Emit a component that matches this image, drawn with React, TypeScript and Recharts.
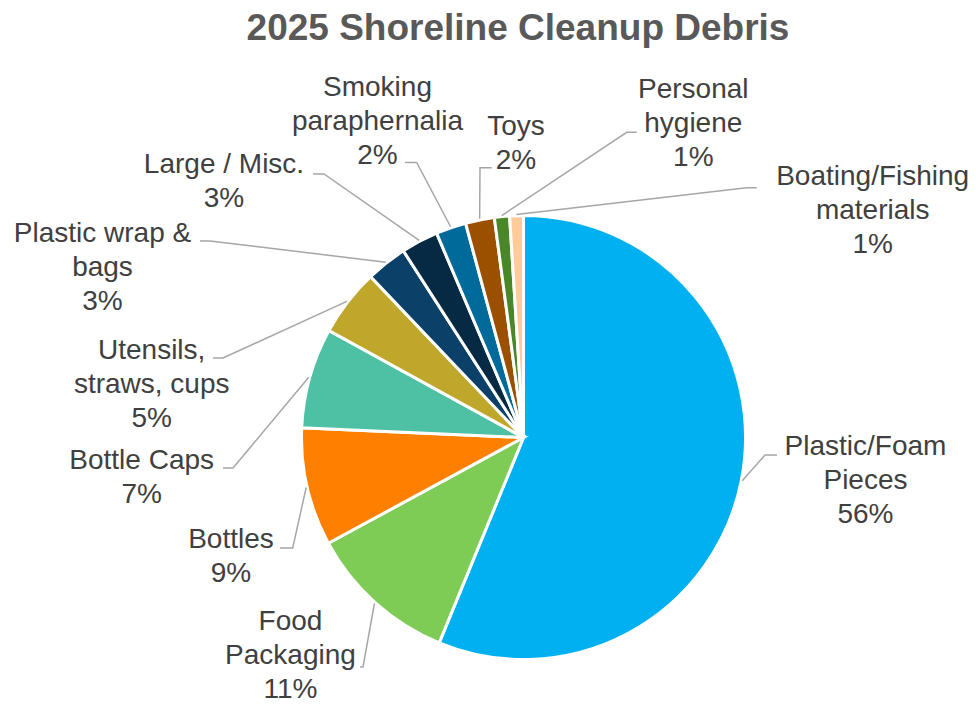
import { PieChart, Pie, Cell } from "recharts";

const categories = [
  "Plastic/Foam\nPieces",
  "Food\nPackaging",
  "Bottles",
  "Bottle Caps",
  "Utensils,\nstraws, cups",
  "Plastic wrap &\nbags",
  "Large / Misc.",
  "Smoking\nparaphernalia",
  "Toys",
  "Personal\nhygiene",
  "Boating/Fishing\nmaterials",
];

const shares = [56.2, 10.9, 8.6, 7.3, 4.9, 3.0, 2.7, 2.2, 2.1, 1.1, 1.0];

const colors = [
  "#00B0F0",
  "#7ECB55",
  "#FF8000",
  "#4EC0A3",
  "#BFA72B",
  "#0B4168",
  "#062A44",
  "#006B9B",
  "#9B5000",
  "#4A8728",
  "#FFCC99",
];

// label placement, offsets from the pie centre: text block centre, leader bend, leader tail
const labelPos = [
  [342, 41.5], [-233, 216.5], [-292.5, 117.5], [-381.8, 38.5], [-371.8, -54.5],
  [-421, -171.5], [-299.5, -257.5], [-146, -317], [-7.5, -295.5], [169.8, -315], [349.2, -228],
];
const bendPos = [
  [241.5, 17.5], [-160.5, 229.5], [-230.8, 110.5], [-290.5, 30.5], [-300.5, -79.5],
  [-313.5, -196.5], [-199.5, -263.5], [-106.8, -275], [-43.5, -269.8], [103.2, -305.2], [223.2, -249.8],
];
const tailLen = [12, -3, -12.7, -10, -10, -10, -11, -11.7, 11.7, 10, 10];

const data = categories.map((name, i) => ({ name, value: shares[i] }));

const CX = 523.5;
const CY = 437.5;
const R = 222;
const RAD = Math.PI / 180;
const LINE_H = 34;

function renderLabel(props: any) {
  const { midAngle, index, percent } = props;
  const cx = props.cx ?? CX;
  const cy = props.cy ?? CY;
  const outer = props.outerRadius ?? R;
  const sx = cx + Math.cos(-midAngle * RAD) * (outer + 1);
  const sy = cy + Math.sin(-midAngle * RAD) * (outer + 1);
  const bx = cx + bendPos[index][0];
  const by = cy + bendPos[index][1];
  const ex = bx + tailLen[index];
  const tx = cx + labelPos[index][0];
  const ty = cy + labelPos[index][1];
  const lines = [...categories[index].split("\n"), `${Math.round(percent * 100)}%`];
  const top = ty - ((lines.length - 1) * LINE_H) / 2;
  return (
    <g key={`lbl-${index}`}>
      <polyline
        points={`${sx},${sy} ${bx},${by} ${ex},${by}`}
        fill="none"
        stroke="#A6A6A6"
        strokeWidth={1.5}
      />
      <text
        x={tx}
        y={top}
        textAnchor="middle"
        fill="#404040"
        fontSize={28}
        fontFamily="'Liberation Sans', Arial, sans-serif"
      >
        {lines.map((l, j) => (
          <tspan key={j} x={tx} y={top + j * LINE_H} dominantBaseline="central">
            {l}
          </tspan>
        ))}
      </text>
    </g>
  );
}

export default function App() {
  return (
    <div style={{ position: "absolute", left: 0, top: 0, width: 976, height: 704, background: "#fff" }}>
      <div
        style={{
          position: "absolute",
          left: 0,
          top: 9,
          width: 1036,
          textAlign: "center",
          fontFamily: "'Liberation Sans', Arial, sans-serif",
          fontWeight: "bold",
          fontSize: 37,
          lineHeight: "37px",
          color: "#595959",
        }}
      >
        2025 Shoreline Cleanup Debris
      </div>
      <PieChart width={976} height={704} margin={{ top: 0, right: 0, bottom: 0, left: 0 }}>
        <Pie
          data={data}
          dataKey="value"
          nameKey="name"
          cx={CX}
          cy={CY}
          outerRadius={R}
          startAngle={90}
          endAngle={-270}
          stroke="#FFFFFF"
          strokeWidth={3}
          label={renderLabel}
          labelLine={false}
          isAnimationActive={false}
        >
          {data.map((d, i) => (
            <Cell key={d.name} fill={colors[i]} />
          ))}
        </Pie>
      </PieChart>
    </div>
  );
}
